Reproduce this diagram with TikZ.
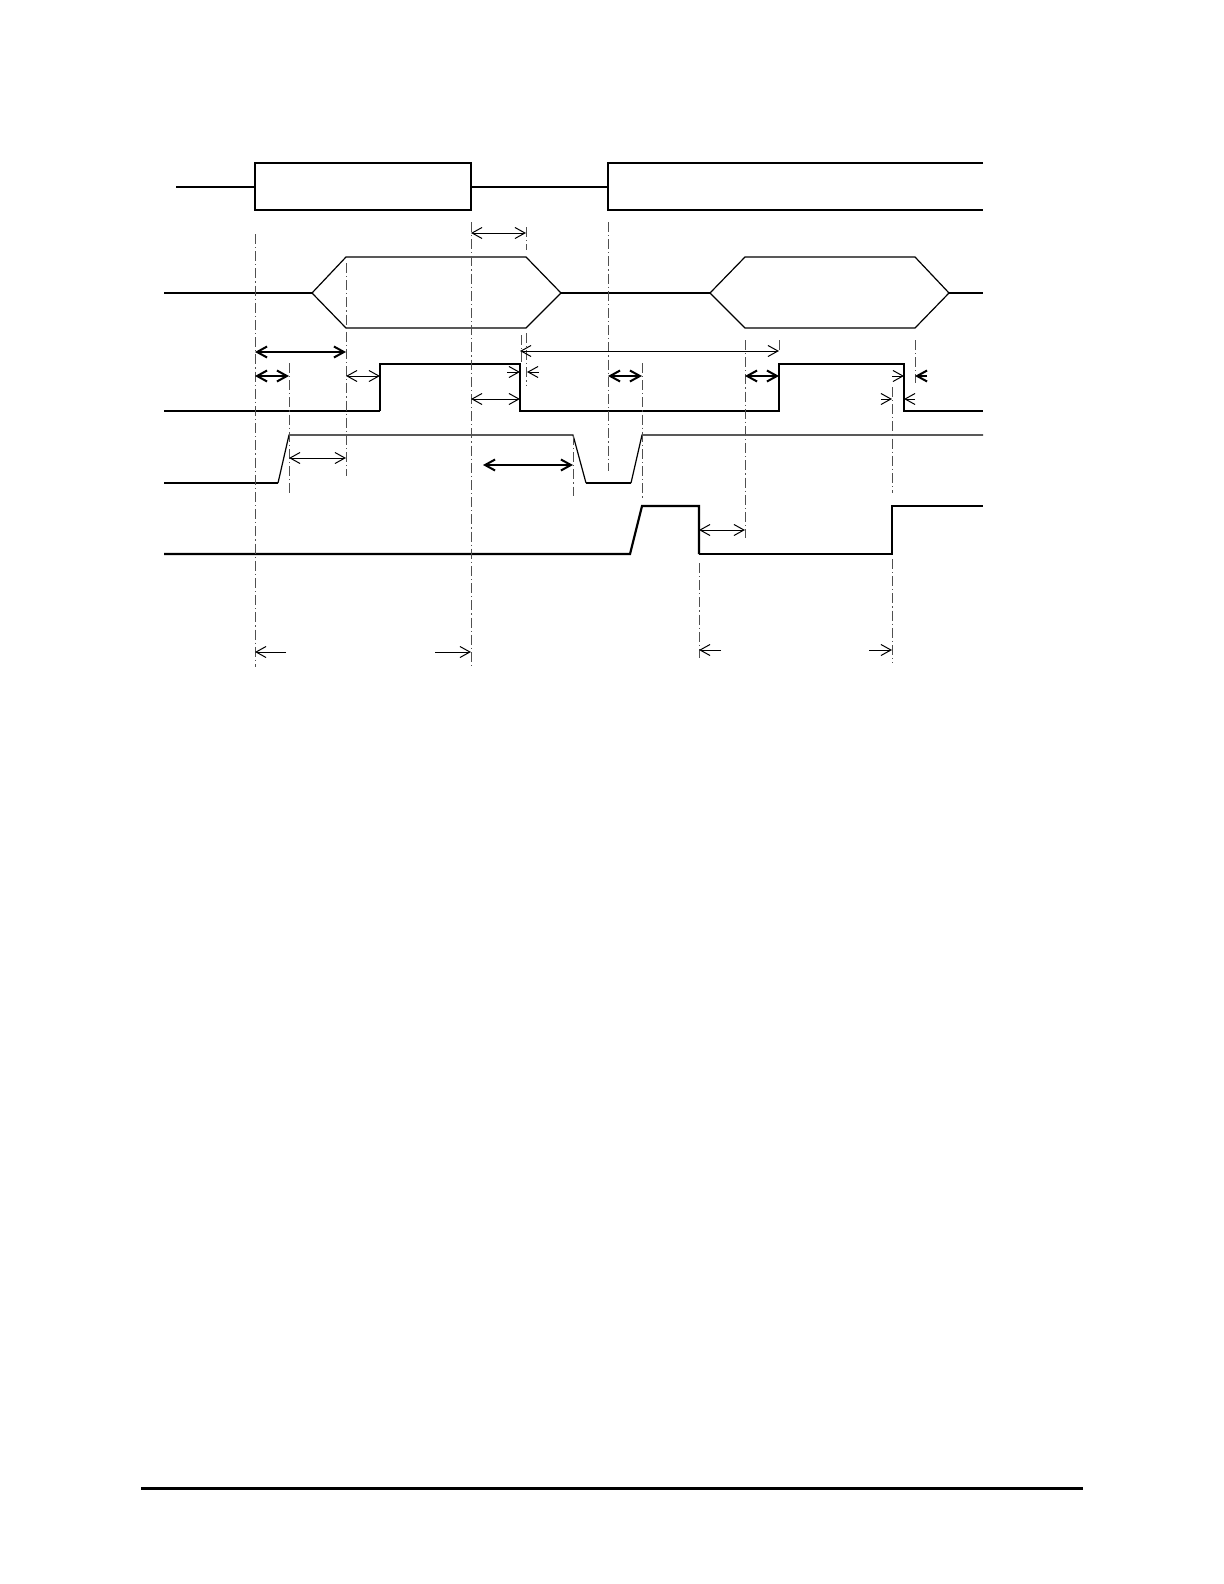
\documentclass[tikz,border=0pt]{standalone}
\usepackage{tikz}
\usetikzlibrary{arrows.meta}
\definecolor{tdgray}{RGB}{80,80,80}

\begin{document}
\begin{tikzpicture}[x=0.5pt, y=-0.5pt,
  >={Straight Barb[length=5pt,width=5.5pt]},
  wave/.style={black, line width=0.6pt},
  wavebold/.style={black, line width=1.1pt},
  guide/.style={tdgray, line width=0.5pt, dash pattern=on 5pt off 1.5pt on 0.6pt off 1.5pt},
  dimline/.style={black, line width=0.5pt, <->},
  dimbold/.style={black, line width=1pt, <->},
  ptr/.style={black, line width=0.5pt, ->}]
  \useasboundingbox (0,0) rectangle (1224,1584);

  % Box signal
  \draw[wave] (176,187) -- (255,187);
  \draw[wave, line width=0.8pt] (255,163) rectangle (471,210);
  \draw[wave] (471,187) -- (608,187);
  \draw[wave, line width=0.8pt] (983,163) -- (608,163) -- (608,210) -- (983,210);

  % Bus
  \draw[wave] (164,293) -- (312,293);
  \draw[wave] (312,293) -- (346,257) -- (526,257) -- (561,293) -- (526,328) -- (346,328) -- cycle;
  \draw[wave] (561,293) -- (710,293);
  \draw[wave] (710,293) -- (745,257) -- (915,257) -- (949,293) -- (915,328) -- (745,328) -- cycle;
  \draw[wave] (949,293) -- (983,293);

  % Strobes
  \draw[wavebold] (164,411) -- (380,411);
  \draw[wave] (380,411) -- (380,364) -- (520,364) -- (520,411) -- (779,411) -- (779,364) -- (904,364) -- (904,411) -- (983,411);
  \draw[wavebold] (164,483) -- (278,483);
  \draw[wave] (278,483) -- (289,435) -- (573,435) -- (586,483);
  \draw[wavebold] (586,483) -- (631,483);
  \draw[wave] (631,483) -- (642,435) -- (983,435);
  \draw[wavebold] (164,554) -- (630,554) -- (642,506) -- (699,506) -- (699,554);
  \draw[wave] (699,554) -- (892,554) -- (892,506) -- (983,506);

  % Guides
  \foreach \x/\ya/\yb in {255/234/667, 346/263/476, 471/222/667, 526/227/250,
      526/333/385, 521/335/363, 289/363/495, 608/222/471, 573/435/496,
      642/363/498, 745/340/538, 779/340/353, 915/340/383, 892/387/493,
      699/563/658, 892/559/663}
    \draw[guide] (\x,\ya) -- (\x,\yb);

  % Timings
  \draw[dimline] (471,233) -- (526,233);
  \draw[dimbold] (255,352) -- (346,352);
  \draw[dimbold] (255,376) -- (289,376);
  \draw[dimline] (346,376) -- (380,376);
  \draw[dimline] (520,351) -- (779,351);
  \draw[dimline] (471,399) -- (520,399);
  \draw[dimbold] (608,376) -- (642,376);
  \draw[dimbold] (745,376) -- (779,376);
  \draw[dimline] (289,458) -- (346,458);
  \draw[dimbold] (483,465) -- (573,465);
  \draw[dimline] (699,530) -- (745,530);

  \draw[ptr] (507,372) -- (520,372);
  \draw[ptr] (539,372) -- (527,372);
  \draw[ptr] (892,376) -- (904,376);
  \draw[ptr, line width=1pt] (927,376) -- (915,376);
  \draw[ptr] (881,399) -- (892,399);
  \draw[ptr] (915,399) -- (904,399);

  \draw[ptr] (286,652) -- (255,652);
  \draw[ptr] (435,652) -- (471,652);
  \draw[ptr] (721,650) -- (699,650);
  \draw[ptr] (869,650) -- (892,650);

  \draw[line width=1.5pt] (141,1488) -- (1083,1488);
\end{tikzpicture}
\end{document}
